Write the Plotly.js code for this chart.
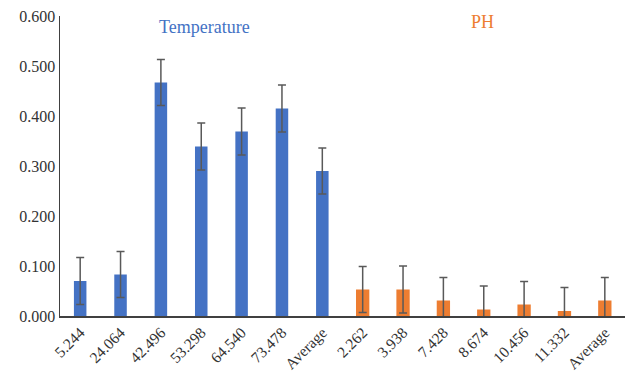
<!DOCTYPE html>
<html>
<head>
<meta charset="utf-8">
<script src="https://cdn.plot.ly/plotly-3.0.1.min.js"></script>
<style>html,body{margin:0;padding:0;background:#fff;}#chart{width:626px;height:374px;}</style>
</head>
<body>
<div id="chart"></div>
<script>
const tempLabels = ["5.244", "24.064", "42.496", "53.298", "64.540", "73.478", "Average"];
const tempValues = [0.070, 0.083, 0.467, 0.339, 0.369, 0.415, 0.290];
const tempErrors = [0.047, 0.046, 0.046, 0.047, 0.047, 0.047, 0.046];

const phLabels = ["2.262", "3.938", "7.428", "8.674", "10.456", "11.332", "Average"];
const phValues = [0.053, 0.053, 0.031, 0.013, 0.023, 0.010, 0.031];
const phErrors = [0.046, 0.047, 0.046, 0.047, 0.046, 0.047, 0.046];

const allLabels = tempLabels.concat(phLabels);
const tempX = tempLabels.map((_, i) => i);
const phX = phLabels.map((_, i) => i + tempLabels.length);
const allX = allLabels.map((_, i) => i);

const errStyle = {type: 'data', visible: true, color: '#595959', thickness: 1.5, width: 4};

const traces = [
  {type: 'bar', x: tempX, y: tempValues, width: 0.31, marker: {color: '#4472C4'},
   error_y: Object.assign({array: tempErrors}, errStyle), hoverinfo: 'y', showlegend: false},
  {type: 'bar', x: phX, y: phValues, width: 0.33, marker: {color: '#ED7D31'},
   error_y: Object.assign({array: phErrors}, errStyle), hoverinfo: 'y', showlegend: false}
];

const layout = {
  width: 626, height: 374,
  margin: {l: 60, r: 1, t: 16, b: 58},
  paper_bgcolor: '#ffffff', plot_bgcolor: '#ffffff',
  barmode: 'overlay',
  font: {family: '"Liberation Serif", "Times New Roman", serif', size: 16, color: '#333333'},
  xaxis: {
    range: [-0.5, allLabels.length - 0.5],
    tickmode: 'array', tickvals: allX, ticktext: allLabels,
    tickangle: -45, showgrid: false, zeroline: false,
    showline: true, linecolor: '#404040', linewidth: 1.5,
    ticks: '', tickfont: {size: 15.5, color: '#333333'}
  },
  yaxis: {
    range: [0, 0.6], dtick: 0.1, tickformat: '.3f',
    showgrid: false, zeroline: false,
    showline: true, linecolor: '#404040', linewidth: 1.5,
    ticks: '', ticklen: 0, tickfont: {size: 16, color: '#333333'}
  },
  annotations: [
    {text: 'Temperature', xref: 'paper', yref: 'paper', x: 0.256, y: 0.965,
     xanchor: 'center', yanchor: 'middle', showarrow: false,
     font: {size: 18, color: '#4472C4'}},
    {text: 'PH', xref: 'paper', yref: 'paper', x: 0.747, y: 0.98,
     xanchor: 'center', yanchor: 'middle', showarrow: false,
     font: {size: 18, color: '#ED7D31'}}
  ]
};

Plotly.newPlot('chart', traces, layout, {displayModeBar: false, staticPlot: true});
</script>
</body>
</html>
